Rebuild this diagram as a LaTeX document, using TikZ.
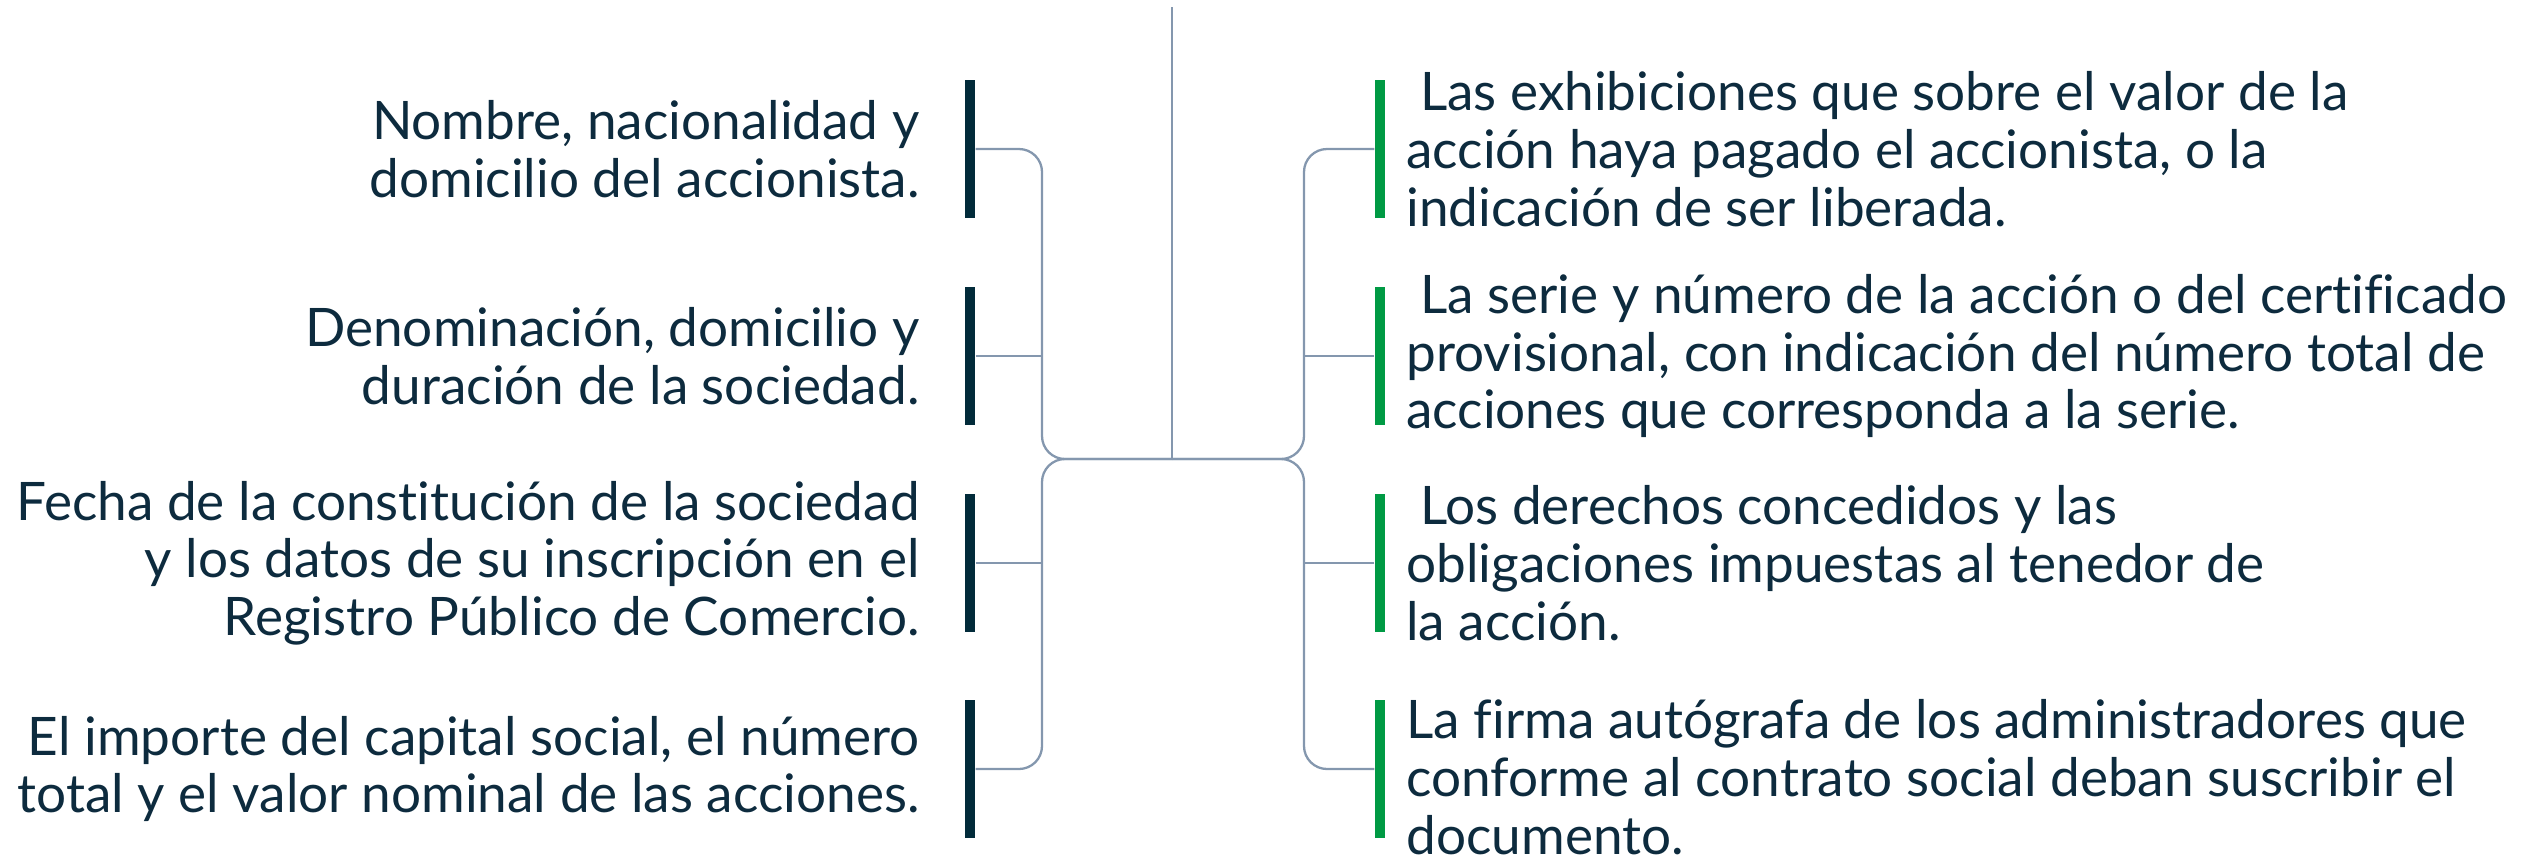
\documentclass[tikz,border=0pt]{standalone}
\usepackage{fontspec}
\setmainfont[Ligatures={NoCommon}]{Lato}
\usepackage{xcolor}
\usetikzlibrary{positioning}

\definecolor{azul}{HTML}{022B3A}
\definecolor{verde}{HTML}{009A44}
\definecolor{tinta}{HTML}{0D2B3E}
\definecolor{gris}{HTML}{8497AE}

\begin{document}
\begin{tikzpicture}[x=0.01cm, y=-0.01cm,
        barra/.style={minimum width=0.1cm, minimum height=1.37cm, inner sep=0pt},
        txtizq/.style={align=right, text=tinta, inner sep=0pt, font=\fontsize{15.1}{16.4}\selectfont},
        txtder/.style={align=left, text=tinta, inner sep=0pt, font=\fontsize{15.1}{16.4}\selectfont},
        enlace/.style={draw=gris, line width=0.65pt}]
        \useasboundingbox (0,0) rectangle (2527,857);
        % Tronco central
        \coordinate (tope) at (1172,7);
        \coordinate (nudo) at (1172,459);
        \coordinate (ramaI) at (1042,459);
        \coordinate (ramaD) at (1304,459);
        \draw[enlace] (tope) -- (nudo);
        % Barras izquierdas
        \node[barra, fill=azul] (i1) at (970,149) {};
        \node[barra, fill=azul] (i2) at (970,356) {};
        \node[barra, fill=azul] (i3) at (970,563) {};
        \node[barra, fill=azul] (i4) at (970,769) {};
        % Barras derechas
        \node[barra, fill=verde] (d1) at (1380,149) {};
        \node[barra, fill=verde] (d2) at (1380,356) {};
        \node[barra, fill=verde] (d3) at (1380,563) {};
        \node[barra, fill=verde] (d4) at (1380,769) {};
        % Textos izquierdos
        \node[txtizq, left=0.44cm of i1] (ti1) {Nombre, nacionalidad y\\domicilio del accionista.};
        \node[txtizq, left=0.44cm of i2] (ti2) {Denominación, domicilio y\\duración de la sociedad.};
        \node[txtizq, left=0.44cm of i3] (ti3) {Fecha de la constitución de la sociedad\\y los datos de su inscripción en el\\Registro Público de Comercio.};
        \node[txtizq, left=0.44cm of i4] (ti4) {El importe del capital social, el número\\total y el valor nominal de las acciones.};
        % Textos derechos
        \node[txtder, right=0.2cm of d1] (td1) {\ Las exhibiciones que sobre el valor de la\\acción haya pagado el accionista, o la\\indicación de ser liberada.};
        \node[txtder, right=0.2cm of d2] (td2) {\ La serie y número de la acción o del certificado\\provisional, con indicación del número total de\\acciones que corresponda a la serie.};
        \node[txtder, right=0.2cm of d3] (td3) {\ Los derechos concedidos y las\\obligaciones impuestas al tenedor de\\la acción.};
        \node[txtder, right=0.2cm of d4, yshift=-0.08cm] (td4) {La firma autógrafa de los administradores que\\conforme al contrato social deban suscribir el\\documento.};
        % Conectores izquierdos
        \draw[enlace, rounded corners=0.23cm] (i1.east) -| (ramaI) -- (nudo);
        \draw[enlace, rounded corners=0.23cm] (nudo) -- (ramaI) |- (i4.east);
        \draw[enlace] (i2.east) -- (i2.east -| ramaI);
        \draw[enlace] (i3.east) -- (i3.east -| ramaI);
        % Conectores derechos
        \draw[enlace, rounded corners=0.23cm] (d1.west) -| (ramaD) -- (nudo);
        \draw[enlace, rounded corners=0.23cm] (nudo) -- (ramaD) |- (d4.west);
        \draw[enlace] (d2.west) -- (d2.west -| ramaD);
        \draw[enlace] (d3.west) -- (d3.west -| ramaD);
\end{tikzpicture}
\end{document}
